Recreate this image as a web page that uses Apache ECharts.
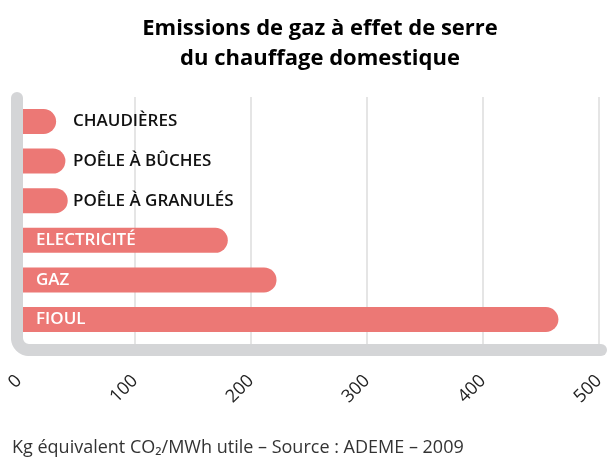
<!DOCTYPE html>
<html><head><meta charset="utf-8">
<script src="https://cdn.jsdelivr.net/npm/echarts@6/dist/echarts.min.js"></script>
<style>html,body{margin:0;padding:0;background:#fff;}#c{width:608px;height:459px;}</style>
</head><body><div id="c"></div>
<script>
const categories = ['CHAUDIÈRES', 'POÊLE À BÛCHES', 'POÊLE À GRANULÉS', 'ELECTRICITÉ', 'GAZ', 'FIOUL'];
const values = [32, 40, 42, 180, 222, 465];
const labelInside = [false, false, false, true, true, true];
const tickValues = [0, 100, 200, 300, 400, 500];

const W = 608, H = 459;
const left = 19, right = 9;
const gridTop = 97, gridBottomY = 345;
const barTop = 101.7, barBottomY = 339.3;
const barColor = '#EC7875';
const frameColor = '#D4D5D7';
const font = 'Open Sans';

const chart = echarts.init(document.getElementById('c'), null, {renderer: 'canvas'});

const data = values.map((v, i) => ({
  value: v,
  label: labelInside[i]
    ? {show: true, position: [17, '50%'], color: '#fff'}
    : {show: true, position: [54, '50%'], color: '#111'}
}));

// frame (gray L)
const fx = 17, fy0 = 98, fy1 = 350, fx1 = 601, r = 12;
const frameStyle = {stroke: frameColor, lineWidth: 12, lineCap: 'round', fill: null};

chart.setOption({
  animation: false,
  title: {
    text: 'Emissions de gaz à effet de serre\ndu chauffage domestique',
    left: 315, top: 9, textAlign: 'center',
    textStyle: {fontFamily: font, fontWeight: 'bold', fontSize: 22, lineHeight: 30, color: '#000'}
  },
  grid: [
    {left: left, right: right, top: gridTop, bottom: H - gridBottomY},
    {left: left, right: right, top: barTop, bottom: H - barBottomY}
  ],
  xAxis: [
    {type: 'value', gridIndex: 0, min: 0, max: 500, interval: 100,
      axisLine: {show: false}, axisTick: {show: false},
      splitLine: {show: true, lineStyle: {color: '#DCDCDC', width: 1.5}},
      axisLabel: {rotate: 45, margin: 33, fontFamily: font, fontSize: 18, color: '#222',
        formatter: v => tickValues.includes(v) ? String(v) : ''}},
    {type: 'value', gridIndex: 1, min: 0, max: 500, show: false}
  ],
  yAxis: [
    {type: 'category', gridIndex: 0, data: categories, show: false},
    {type: 'category', gridIndex: 1, data: categories, inverse: true, show: false}
  ],
  series: [{
    type: 'bar', xAxisIndex: 1, yAxisIndex: 1,
    data: data, barWidth: 25,
    itemStyle: {color: barColor, borderRadius: [0, 12.5, 12.5, 0]},
    label: {show: true, formatter: '{b}', fontFamily: font, fontWeight: 600, fontSize: 17,
      align: 'left', verticalAlign: 'middle'}
  }],
  graphic: [
    {type: 'line', z: 10, shape: {x1: fx, y1: fy0, x2: fx, y2: fy1 - r}, style: frameStyle},
    {type: 'line', z: 10, shape: {x1: fx + r, y1: fy1, x2: fx1, y2: fy1}, style: frameStyle},
    {type: 'arc', z: 10, shape: {cx: fx + r, cy: fy1 - r, r: r, startAngle: Math.PI / 2, endAngle: Math.PI, clockwise: true},
      style: {stroke: frameColor, lineWidth: 12, fill: null}},
    {type: 'text', left: 12, top: 439, style: {text: 'Kg équivalent CO₂/MWh utile – Source : ADEME – 2009',
      font: '18px "Open Sans"', fill: '#333'}}
  ]
});
</script></body></html>
